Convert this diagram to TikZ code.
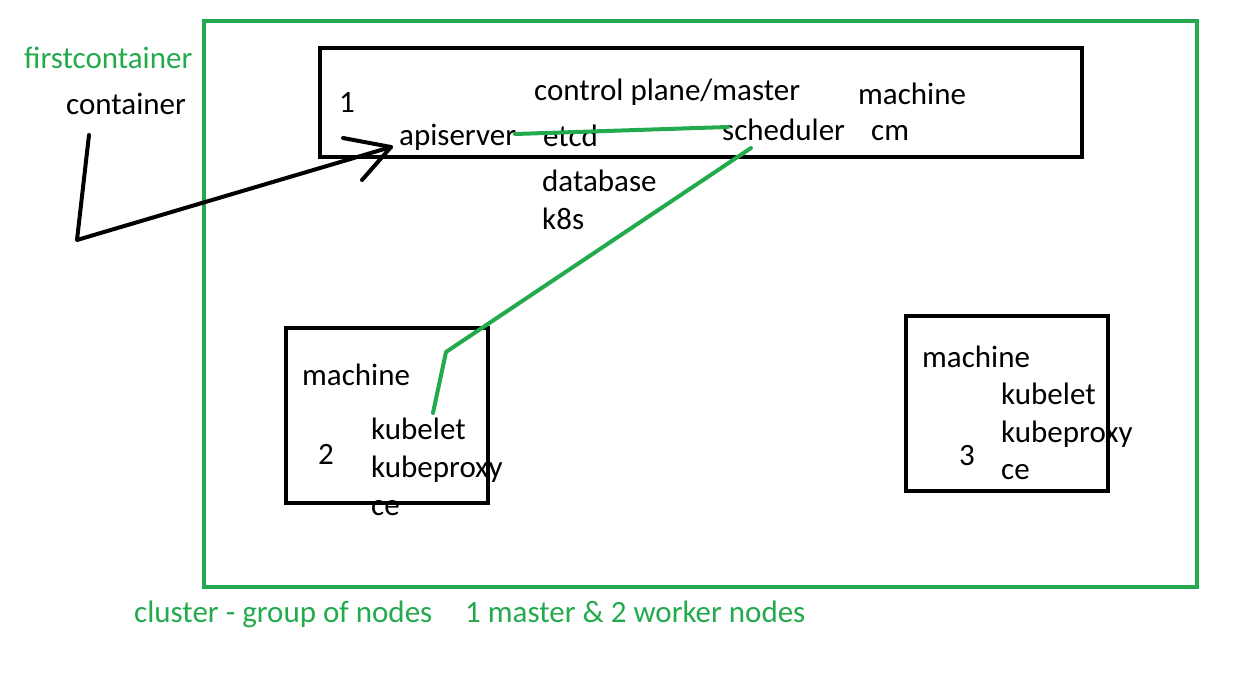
\documentclass[tikz,border=0pt]{standalone}
\usepackage{fontspec}
\setmainfont{Carlito}
\definecolor{pgreen}{RGB}{34,170,76}
\begin{document}
\begin{tikzpicture}[x=1pt,y=-1pt,
  txt/.style={anchor=base west,inner sep=0pt,yshift=-2pt,font=\fontsize{31}{37}\selectfont},
  gtxt/.style={txt,text=pgreen},
  blackbox/.style={draw=black,line width=4pt},
  greenbox/.style={draw=pgreen,line width=4pt},
  blackline/.style={draw=black,line width=4pt,line join=round,line cap=round},
  greenline/.style={draw=pgreen,line width=4pt,line join=round,line cap=round}]
\useasboundingbox (0,0) rectangle (1243,677);
% frames
\draw[greenbox] (204,21) rectangle (1197,587);
\draw[blackbox] (320,48) rectangle (1082,157);
\draw[blackbox] (286,328) rectangle (488,503);
\draw[blackbox] (906,316) rectangle (1108,491);
% left texts
\node[gtxt] (first) at (24,67) {firstcontainer};
\node[txt] (cont) at (66,112) {container};
% master box
\node[txt] (one) at (339,110) {1};
\node[txt] (cp) at (534,98) {control plane/master};
\node[txt] (mach1) at (858,103) {machine};
\node[txt] (api) at (399,143) {apiserver};
\node[txt] (etcd) at (543,144) {etcd};
\node[txt] (sched) at (722,138) {scheduler};
\node[txt] (cm) at (871,138) {cm};
\node[txt] (db) at (542,189) {database};
\node[txt] (k8s) at (542,227) {k8s};
% worker 2
\node[txt] (mach2) at (302,383) {machine};
\node[txt] (two) at (318,462) {2};
\node[txt] (kl2) at (371,437) {kubelet};
\node[txt] (kp2) at (371,475) {kubeproxy};
\node[txt] (ce2) at (371,513) {ce};
% worker 3
\node[txt] (mach3) at (922,365) {machine};
\node[txt] (three) at (959,463) {3};
\node[txt] (kl3) at (1001,402) {kubelet};
\node[txt] (kp3) at (1001,440) {kubeproxy};
\node[txt] (ce3) at (1001,477) {ce};
% bottom texts
\node[gtxt] (clu) at (134,620) {cluster - group of nodes};
\node[gtxt] (cnt) at (465,620) {1 master \& 2 worker nodes};
% black arrow
\coordinate (a0) at (89,135);
\coordinate (a1) at (77,240);
\coordinate (tip) at (391,147);
\coordinate (h1) at (343,138);
\coordinate (h2) at (362,180);
\draw[blackline] (a0) -- (a1) -- (tip);
\draw[blackline] (h1) -- (tip) -- (h2);
% green connectors
\coordinate (g0) at (515,134);
\coordinate (g1) at (728,127);
\draw[greenline] (g0) -- (g1);
\coordinate (s0) at (751,148);
\coordinate (s1) at (446,352);
\coordinate (s2) at (433,413);
\draw[greenline] (s0) -- (s1) -- (s2);
\end{tikzpicture}
\end{document}
